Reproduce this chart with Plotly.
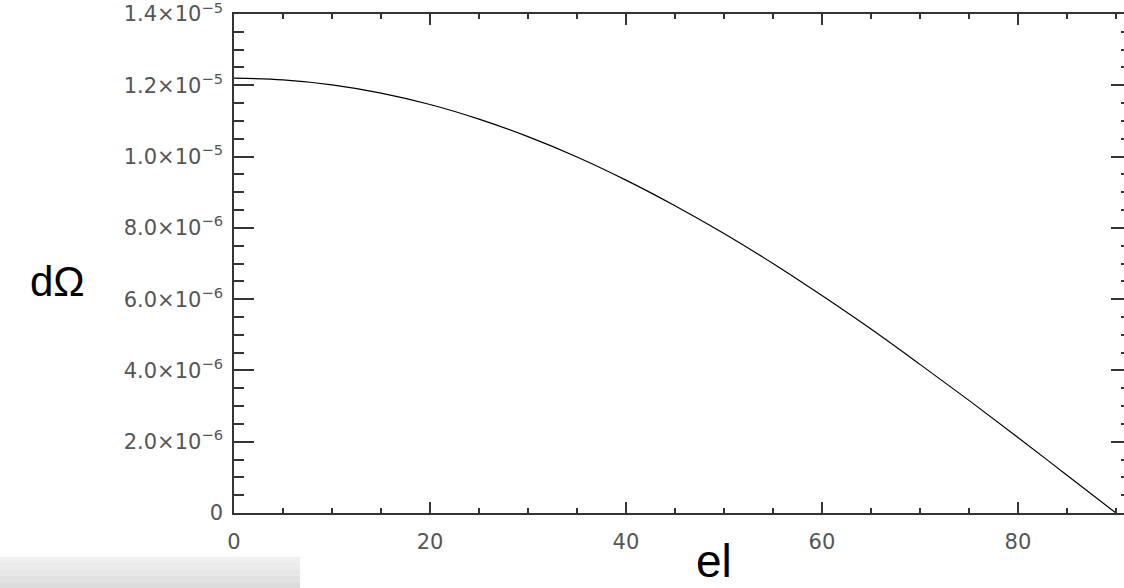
import plotly.graph_objects as go

# Data
el = [0, 5, 10, 15, 20, 25, 30, 35, 40, 45, 50, 55, 60, 65, 70, 75, 80, 85, 90]
d_omega = [1.220e-5, 1.215e-5, 1.201e-5, 1.178e-5, 1.146e-5, 1.105e-5, 1.056e-5,
           0.999e-5, 0.934e-5, 0.862e-5, 0.784e-5, 0.700e-5, 0.610e-5, 0.516e-5,
           0.417e-5, 0.316e-5, 0.212e-5, 0.106e-5, 0.0]

x_tickvals = [0, 20, 40, 60, 80]
x_ticktext = ["0", "20", "40", "60", "80"]
y_tickvals = [0, 2e-6, 4e-6, 6e-6, 8e-6, 1.0e-5, 1.2e-5, 1.4e-5]
y_ticktext = ["0", "2.0×10<sup>−6</sup>", "4.0×10<sup>−6</sup>", "6.0×10<sup>−6</sup>",
              "8.0×10<sup>−6</sup>", "1.0×10<sup>−5</sup>", "1.2×10<sup>−5</sup>",
              "1.4×10<sup>−5</sup>"]

x_range = [0, 90.82]
y_range = [0, 1.40002e-5]

axis_col = "#333333"
label_col = "#555555"
tick_font = dict(family="DejaVu Sans", size=21, color=label_col)

fig = go.Figure()
fig.add_trace(go.Scatter(x=el, y=d_omega, mode="lines",
                         line=dict(color="black", width=1.2, shape="spline"),
                         hoverinfo="skip", showlegend=False))
fig.add_trace(go.Scatter(x=el, y=d_omega, mode="lines", yaxis="y2",
                         line=dict(color="rgba(0,0,0,0)", width=0),
                         hoverinfo="skip", showlegend=False))

fig.update_layout(
    width=1124, height=588,
    margin=dict(l=234, r=0, t=14, b=75),
    paper_bgcolor="white", plot_bgcolor="white",
    xaxis=dict(range=x_range, showgrid=False, zeroline=False,
               showline=True, linecolor=axis_col, linewidth=1.5, mirror="ticks",
               ticks="inside", ticklen=11, tickwidth=1.5, tickcolor=axis_col,
               tickvals=x_tickvals, ticktext=x_ticktext, tickfont=tick_font,
               ticklabelstandoff=9,
               minor=dict(dtick=5, ticks="inside", ticklen=5, tickwidth=1.5,
                          tickcolor=axis_col, showgrid=False)),
    yaxis=dict(range=y_range, showgrid=False, zeroline=False,
               showline=True, linecolor=axis_col, linewidth=1.5, mirror=False,
               ticks="inside", ticklen=20, tickwidth=1.5, tickcolor=axis_col,
               tickvals=y_tickvals, ticktext=y_ticktext, tickfont=tick_font,
               ticklabelstandoff=5, ticklabeloverflow="allow",
               minor=dict(dtick=5e-7, ticks="inside", ticklen=10, tickwidth=1.5,
                          tickcolor=axis_col, showgrid=False)),
    yaxis2=dict(range=y_range, overlaying="y", side="right", anchor="x",
                showgrid=False, zeroline=False, showline=False,
                showticklabels=False, ticks="inside", ticklen=13, tickwidth=1.5,
                tickcolor=axis_col, tickvals=y_tickvals,
                minor=dict(dtick=5e-7, ticks="inside", ticklen=3, tickwidth=1.5,
                           tickcolor=axis_col, showgrid=False)),
)

# Gray bar in the bottom-left corner
bar_cols = ["#f0f0f0", "#ebebeb", "#e6e6e6", "#e1e1e1", "#dcdcdc"]
y0 = 31.3
step = y0 / len(bar_cols)
for i, c in enumerate(bar_cols):
    fig.add_shape(type="rect", xref="paper", yref="paper",
                  x0=-234 / 890, x1=(300 - 234) / 890,
                  y0=(-75 + y0 - (i + 1) * step) / 499,
                  y1=(-75 + y0 - i * step) / 499,
                  fillcolor=c, line=dict(width=0), layer="below")

# Axis titles
fig.add_annotation(text="dΩ", xref="paper", yref="paper",
                   x=(57 - 234) / 890, y=(513 - 281) / 499,
                   xanchor="center", yanchor="middle", showarrow=False,
                   font=dict(family="Liberation Sans", size=42, color="black"))
fig.add_annotation(text="el", xref="paper", yref="paper",
                   x=(714 - 234) / 890, y=(513 - 588) / 499,
                   xanchor="center", yanchor="bottom", showarrow=False,
                   borderpad=0,
                   font=dict(family="Liberation Sans", size=46, color="black"))

fig.write_html("out.html", config={"displayModeBar": False},
               post_script="document.body.style.margin='0';"
                           "document.body.style.overflow='hidden';")
